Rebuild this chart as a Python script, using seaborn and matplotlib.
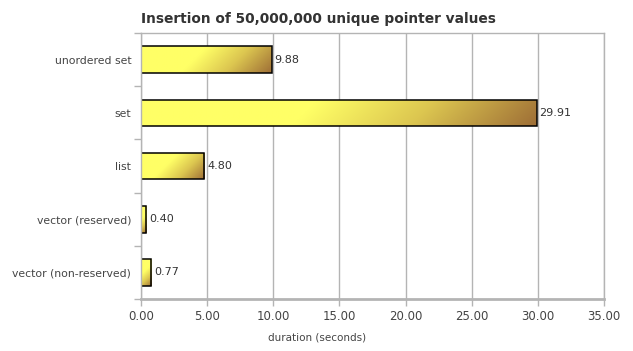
import numpy as np
import pandas as pd
import matplotlib
matplotlib.use("Agg")
import matplotlib.pyplot as plt
import seaborn as sns
from matplotlib.colors import LinearSegmentedColormap

# Data
containers = ["unordered set", "set", "list", "vector (reserved)", "vector (non-reserved)"]
durations = [9.88, 29.91, 4.80, 0.40, 0.77]
x_ticks = [0, 5, 10, 15, 20, 25, 30, 35]

df = pd.DataFrame({"container": containers, "duration": durations})

sns.set_style("white")
plt.rcParams["font.family"] = ["DejaVu Sans"]

grey = "#b4b4b4"
text_col = "#444444"

fig = plt.figure(figsize=(6.33, 3.51), dpi=100)
ax = fig.add_axes([141 / 633, 1 - 299 / 351, (604 - 141) / 633, 266 / 351])

sns.barplot(data=df, x="duration", y="container", orient="h", width=0.5,
            color="#ffff66", edgecolor="black", linewidth=1.1, ax=ax)

ax.set_xlim(0, 35)
ax.set_ylim(4.5, -0.5)
fig.canvas.draw()

# diagonal yellow -> brown gradient inside every bar
cmap = LinearSegmentedColormap.from_list(
    "bar", [(0, "#ffff66"), (0.42, "#ffff66"), (0.7, "#dcc650"), (1, "#9e6e36")])
for p in ax.patches:
    x0, y0, w, h = p.get_x(), p.get_y(), p.get_width(), p.get_height()
    (px0, py0), (px1, py1) = ax.transData.transform([(x0, y0), (x0 + w, y0 + h)])
    pw, ph = abs(px1 - px0), abs(py1 - py0)
    u = np.linspace(0, 1, 300)[None, :]
    v = np.linspace(0, 1, 60)[:, None]
    s = u * pw + v * ph
    t = np.clip(s / (pw + ph), 0, 1)
    im = ax.imshow(t, cmap=cmap, vmin=0, vmax=1, extent=(x0, x0 + w, y0 + h, y0),
                   origin="upper", aspect="auto", zorder=0.8, interpolation="bilinear")
    im.set_clip_path(p)
    p.set_facecolor("none")
    p.set_zorder(1)

ax.set_xlim(0, 35)
ax.set_ylim(4.5, -0.5)

# value labels
for i, val in enumerate(durations):
    ax.text(val + 0.2, i, f"{val:.2f}", ha="left", va="center", fontsize=8, color="#333333")

ax.set_xticks(x_ticks)
ax.set_xticklabels([f"{t:.2f}" for t in x_ticks])
ax.set_yticks(range(len(containers)))
ax.set_yticks(np.arange(-0.5, len(containers), 1), minor=True)
ax.tick_params(axis="y", which="major", left=True, length=0, pad=7, labelsize=7.8, labelcolor=text_col)
ax.tick_params(axis="y", which="minor", left=True, length=5, color=grey, width=1)
ax.tick_params(axis="x", bottom=True, length=5, color=grey, width=1, labelsize=8.5,
               labelcolor=text_col, pad=3)
ax.grid(axis="x", color=grey, linewidth=1)
ax.set_axisbelow(True)
ax.set_xlabel("")
ax.set_ylabel("")
for sp in ax.spines.values():
    sp.set_color(grey)
    sp.set_linewidth(1)
ax.spines["bottom"].set_linewidth(2)

fig.text(141 / 633, 1 - 19 / 351, "Insertion of 50,000,000 unique pointer values",
         fontsize=9.9, fontweight="bold", color="#333333", ha="left", va="center")
fig.text(317 / 633, 1 - 337 / 351, "duration (seconds)", fontsize=7.5,
         color=text_col, ha="center", va="center")

fig.savefig("out.png", dpi=100)
